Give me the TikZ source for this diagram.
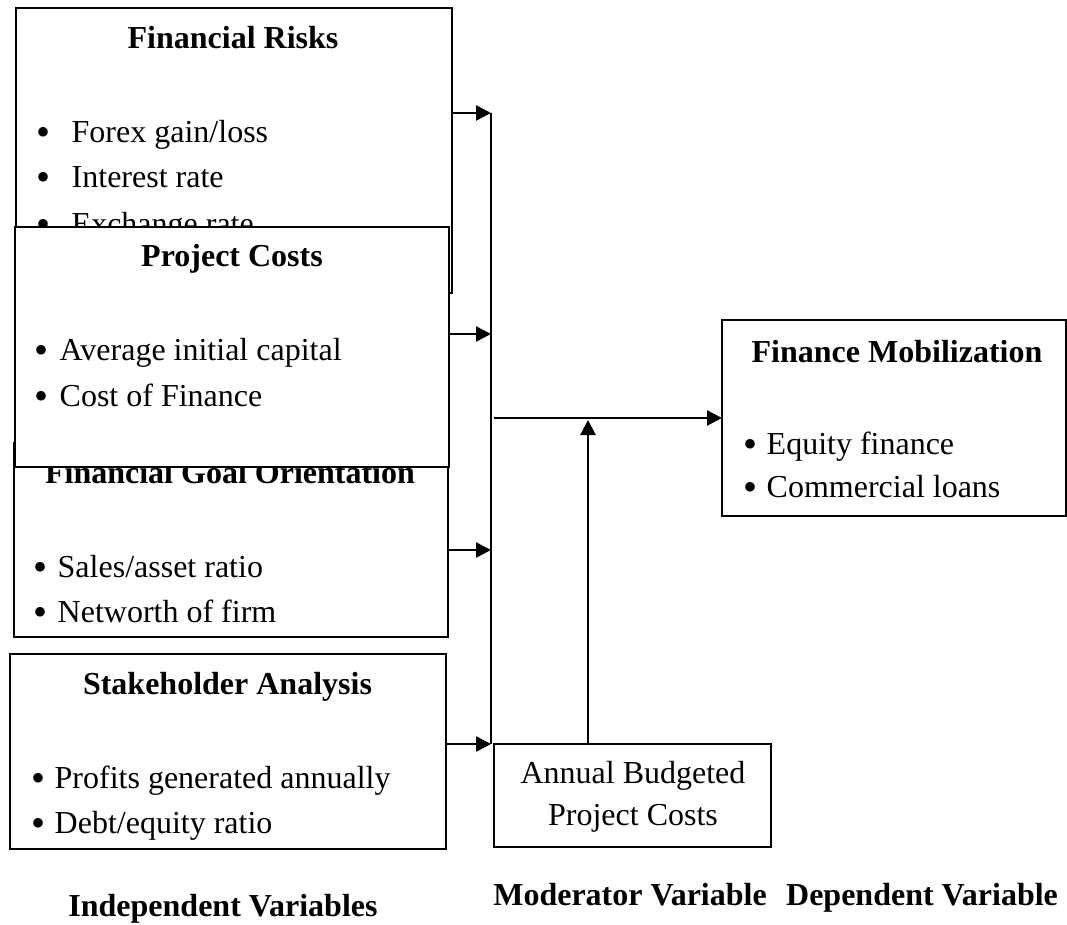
\documentclass[tikz,border=0pt]{standalone}
\usepackage{fontspec}
\setmainfont{Liberation Serif}
\usetikzlibrary{arrows.meta}

\newcommand{\bigtxt}{\fontsize{32}{38}\selectfont}
\newcommand{\blt}[1]{\raisebox{-3pt}{\fontsize{40}{40}\selectfont\textbullet}\hspace{#1}}
\tikzset{
  box/.style={draw,line width=2pt,fill=white,inner sep=0pt,outer sep=0pt},
  ttl/.style={font=\bigtxt\bfseries,anchor=base,inner sep=0pt},
  itm/.style={anchor=base west,inner sep=0pt},
  arr/.style={-{Triangle[length=15pt,width=15pt]},line width=2.5pt},
}

\begin{document}
\begin{tikzpicture}[x=1pt,y=-1pt,font=\bigtxt]
  \useasboundingbox (0,0) rectangle (1067,925);

  % independent variables
  \node[box,minimum width=436pt,minimum height=285pt] (fr) at (233.6,150.8) {};
  \node[ttl] (frt) at (233,49) {Financial Risks};
  \begin{scope}[every node/.style={itm}]
    \node (fr1) at (36.5,143) {\blt{21pt}Forex gain/loss};
    \node (fr2) at (36.5,188) {\blt{21pt}Interest rate};
    \node (fr3) at (36.5,234) {\blt{21pt}Exchange rate};
  \end{scope}

  \node[box,minimum width=434pt,minimum height=194pt] (fgo) at (230.5,540.2) {};
  \node[ttl] (fgot) at (230,483) {Financial Goal Orientation};
  \begin{scope}[every node/.style={itm}]
    \node (fgo1) at (33.5,577) {\blt{10pt}Sales/asset ratio};
    \node (fgo2) at (33.5,622) {\blt{10pt}Networth of firm};
  \end{scope}

  \node[box,minimum width=434pt,minimum height=240pt] (pc) at (232.2,346.8) {};
  \node[ttl] (pct) at (232,266) {Project Costs};
  \begin{scope}[every node/.style={itm}]
    \node (pc1) at (34.5,360) {\blt{11pt}Average initial capital};
    \node (pc2) at (34.5,406) {\blt{11pt}Cost of Finance};
  \end{scope}

  \node[box,minimum width=436pt,minimum height=195pt] (sa) at (227.8,751.7) {};
  \node[ttl] (sat) at (227.5,694) {Stakeholder Analysis};
  \begin{scope}[every node/.style={itm}]
    \node (sa1) at (31.5,788) {\blt{9pt}Profits generated annually};
    \node (sa2) at (31.5,833) {\blt{9pt}Debt/equity ratio};
  \end{scope}

  % dependent and moderator
  \node[box,minimum width=344pt,minimum height=196pt] (fm) at (894,418) {};
  \node[ttl] (fmt) at (897,362) {Finance Mobilization};
  \begin{scope}[every node/.style={itm}]
    \node (fm1) at (743.5,454) {\blt{9pt}Equity finance};
    \node (fm2) at (743.5,497) {\blt{9pt}Commercial loans};
  \end{scope}

  \node[box,minimum width=277pt,minimum height=103pt] (abpc) at (632.7,795.8) {};
  \node[anchor=base,inner sep=0pt] (abpc1) at (633,783) {Annual Budgeted};
  \node[anchor=base,inner sep=0pt] (abpc2) at (633,825) {Project Costs};

  \node[ttl] (iv) at (223,916) {Independent Variables};
  \node[ttl] (mv) at (630,905) {Moderator Variable};
  \node[ttl] (dv) at (922,905) {Dependent Variable};

  % connectors
  \coordinate (b1) at (491,113);
  \coordinate (b2) at (491,334);
  \coordinate (b3) at (491,550);
  \coordinate (b4) at (491,744);
  \coordinate (jn) at (494,418);
  \coordinate (mp) at (588,420);

  \draw[line width=1.8pt] (b1) -- (b4);
  \draw[arr] (fr.east |- b1) -- (b1);
  \draw[arr] (pc.east |- b2) -- (b2);
  \draw[arr] (fgo.east |- b3) -- (b3);
  \draw[arr] (sa.east |- b4) -- (b4);
  \draw[arr] (jn) -- (fm.west);
  \draw[arr] (abpc.north -| mp) -- (mp);

\end{tikzpicture}
\end{document}
